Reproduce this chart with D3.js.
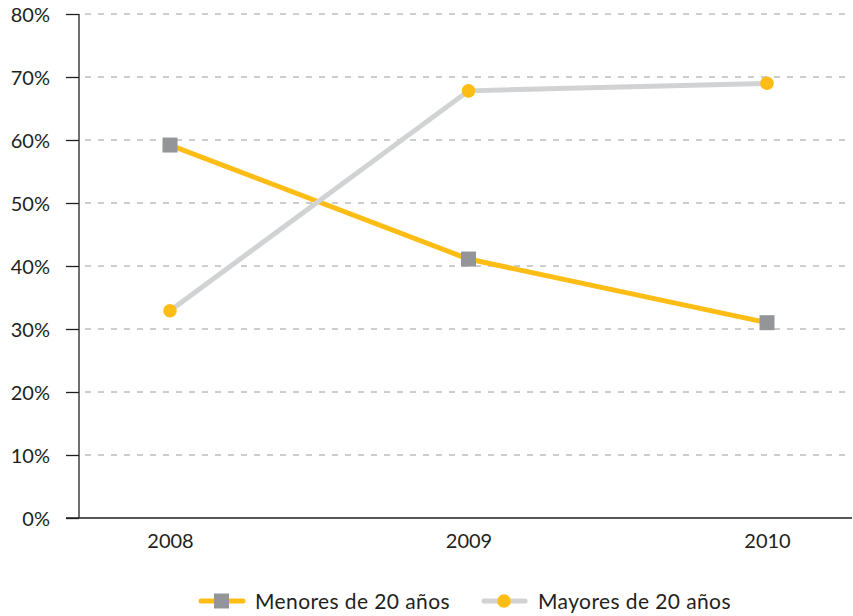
<!DOCTYPE html>
<html>
<head>
<meta charset="utf-8">
<script src="https://cdn.jsdelivr.net/npm/d3@7"></script>
<style>
  body { margin: 0; background: #fff; }
  svg { display: block; }
  text { font-family: Lato, "Open Sans", sans-serif; fill: #231f20; }
</style>
</head>
<body>
<svg id="chart" width="853" height="616"></svg>
<script>
// Años y porcentajes por grupo de edad
const years = ["2008", "2009", "2010"];
const menores = [59.2, 41.1, 31.0];
const mayores = [32.9, 67.8, 69.0];
const yTicks = [0, 10, 20, 30, 40, 50, 60, 70, 80];
const seriesNames = ["Menores de 20 años", "Mayores de 20 años"];

const yellow = "#FDBD15";
const lightGray = "#D1D2D4";
const darkGray = "#939598";
const ink = "#231f20";
const fontFam = "Lato, 'Open Sans', sans-serif";

const svg = d3.select("#chart");
const mLeft = 79, mRight = 852, mTop = 14, mBottom = 518;

const x = d3.scalePoint().domain(years).range([170, 767]);
const y = d3.scaleLinear().domain([0, 80]).range([mBottom, mTop]);

// Gridlines
svg.append("g")
  .selectAll("line")
  .data(yTicks.filter(d => d > 0))
  .join("line")
  .attr("x1", mLeft + 6).attr("x2", 848)
  .attr("y1", d => y(d)).attr("y2", d => y(d))
  .attr("stroke", "#9a9a9a")
  .attr("stroke-width", 1)
  .attr("stroke-dasharray", "6,7");

// Y axis
const yAxis = svg.append("g")
  .attr("transform", `translate(${mLeft},0)`)
  .call(d3.axisLeft(y).tickValues(yTicks).tickFormat(d => d + "%").tickSize(13).tickPadding(16));
yAxis.select(".domain").remove();
yAxis.selectAll(".tick line").attr("stroke", ink).attr("stroke-width", 1.3);
yAxis.selectAll(".tick text").attr("font-size", 20).attr("fill", ink)
  .attr("font-family", fontFam).attr("dy", "0.36em");
svg.append("line")
  .attr("x1", mLeft).attr("x2", mLeft).attr("y1", mTop).attr("y2", mBottom)
  .attr("stroke", ink).attr("stroke-width", 1.3);

// X axis
const xAxis = svg.append("g")
  .attr("transform", `translate(0,${mBottom})`)
  .call(d3.axisBottom(x).tickSize(0));
xAxis.select(".domain").remove();
xAxis.selectAll(".tick text").attr("font-size", 20).attr("fill", ink)
  .attr("font-family", fontFam).attr("y", 30).attr("dy", 0);
svg.append("line")
  .attr("x1", 66).attr("x2", mRight).attr("y1", mBottom).attr("y2", mBottom)
  .attr("stroke", ink).attr("stroke-width", 1.3);

const line = d3.line().x((d, i) => x(years[i])).y(d => y(d));

// Menores de 20 años
svg.append("path").datum(menores)
  .attr("d", line).attr("fill", "none")
  .attr("stroke", yellow).attr("stroke-width", 5);

// Mayores de 20 años
svg.append("path").datum(mayores)
  .attr("d", line).attr("fill", "none")
  .attr("stroke", lightGray).attr("stroke-width", 5);

const sq = 15;
svg.append("g").selectAll("rect")
  .data(menores).join("rect")
  .attr("x", (d, i) => x(years[i]) - sq / 2)
  .attr("y", d => y(d) - sq / 2)
  .attr("width", sq).attr("height", sq)
  .attr("fill", darkGray);

svg.append("g").selectAll("circle")
  .data(mayores).join("circle")
  .attr("cx", (d, i) => x(years[i]))
  .attr("cy", d => y(d))
  .attr("r", 6.8)
  .attr("fill", yellow);

// Legend
const legY = 601;
const leg = svg.append("g");
leg.append("line").attr("x1", 201).attr("x2", 243).attr("y1", legY).attr("y2", legY)
  .attr("stroke", yellow).attr("stroke-width", 5).attr("stroke-linecap", "round");
leg.append("rect").attr("x", 214).attr("y", legY - 7.5).attr("width", 15).attr("height", 15)
  .attr("fill", darkGray);
leg.append("text").attr("x", 255).attr("y", legY).attr("dy", "0.36em")
  .attr("font-size", 21).attr("letter-spacing", 0.4).text(seriesNames[0]);

leg.append("line").attr("x1", 484).attr("x2", 525).attr("y1", legY).attr("y2", legY)
  .attr("stroke", lightGray).attr("stroke-width", 5).attr("stroke-linecap", "round");
leg.append("circle").attr("cx", 504).attr("cy", legY).attr("r", 6.8).attr("fill", yellow);
leg.append("text").attr("x", 538).attr("y", legY).attr("dy", "0.36em")
  .attr("font-size", 21).attr("letter-spacing", 0.4).text(seriesNames[1]);
</script>
</body>
</html>
